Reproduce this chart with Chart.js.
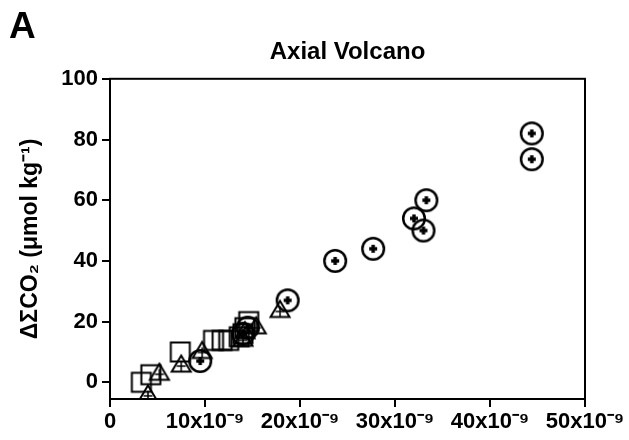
<!DOCTYPE html>
<html><head><meta charset="utf-8">
<script src="https://cdn.jsdelivr.net/npm/chart.js@4/dist/chart.umd.min.js"></script>
<style>
html,body{margin:0;padding:0;background:#fff;}
#wrap{position:relative;width:629px;height:440px;}
#panel{position:absolute;left:9px;top:7px;font:bold 37px "Liberation Sans",Arial,sans-serif;color:#000;line-height:1;}
</style></head><body>
<div id="wrap"><canvas id="c" width="629" height="440"></canvas><div id="panel">A</div></div>
<script>
// x values in units of 10^-9
const xTickValues = [0, 10, 20, 30, 40, 50];
const yTickValues = [0, 20, 40, 60, 80, 100];
const chartTitle = 'Axial Volcano';
const yAxisTitle = 'ΔΣCO₂ (μmol kg⁻¹)';

const squareX = [3.3, 4.3, 7.4, 10.9, 11.8, 12.5, 13.6, 14.0, 14.2, 14.6];
const squareY = [0, 2.5, 10, 13.8, 13.8, 13.8, 15, 16, 18, 20];

const triangleX = [4.0, 5.2, 7.5, 9.7, 14.0, 14.2, 15.4, 17.9];
const triangleY = [-3.8, 3.3, 6, 10.5, 14.5, 17, 18.6, 24];

const circleX = [9.5, 14.0, 14.5, 18.7, 23.7, 27.7, 32.0, 33.0, 33.3, 44.4, 44.4];
const circleY = [7, 16, 18, 27, 40, 44, 54, 50, 60, 73.5, 82];

function pts(xs, ys) { return xs.map((x, i) => ({x: x, y: ys[i]})); }

function makeCanvas(size, draw) {
  const c = document.createElement('canvas');
  c.width = size; c.height = size;
  const g = c.getContext('2d');
  draw(g, size / 2);
  return c;
}
const circleImg = makeCanvas(28, (g, m) => {
  g.strokeStyle = '#000'; g.lineWidth = 2.5;
  g.beginPath(); g.arc(m, m, 10.8, 0, Math.PI * 2); g.stroke();
  g.fillStyle = '#000';
  g.fillRect(m - 4, m - 1.7, 8, 3.4);
  g.fillRect(m - 1.7, m - 4, 3.4, 8);
});
const squareImg = makeCanvas(24, (g, m) => {
  g.strokeStyle = '#000'; g.lineWidth = 2;
  g.strokeRect(m - 9.5, m - 9.5, 19, 19);
});
const triangleImg = makeCanvas(24, (g, m) => {
  g.strokeStyle = '#000'; g.lineWidth = 2;
  g.beginPath();
  g.moveTo(m, m - 8.5); g.lineTo(m + 9.5, m + 7.5); g.lineTo(m - 9.5, m + 7.5); g.closePath();
  g.stroke();
  g.lineWidth = 1.5;
  g.beginPath();
  g.moveTo(m - 4.5, m + 2); g.lineTo(m + 4.5, m + 2);
  g.moveTo(m, m - 3); g.lineTo(m, m + 7.5);
  g.stroke();
});

const framePlugin = {
  id: 'frame',
  afterDraw(chart) {
    const a = chart.chartArea, ctx = chart.ctx;
    ctx.save();
    ctx.strokeStyle = '#000'; ctx.lineWidth = 2;
    ctx.strokeRect(a.left, a.top, a.right - a.left, a.bottom - a.top);
    ctx.restore();
  }
};

const font = {family: '"Liberation Sans", Arial, sans-serif', weight: 'bold'};

new Chart(document.getElementById('c'), {
  type: 'scatter',
  data: {
    datasets: [
      {label: 'squares', data: pts(squareX, squareY), pointStyle: squareImg},
      {label: 'triangles', data: pts(triangleX, triangleY), pointStyle: triangleImg},
      {label: 'circles', data: pts(circleX, circleY), pointStyle: circleImg}
    ]
  },
  options: {
    responsive: false,
    animation: false,
    layout: {padding: {left: 0, right: 44, top: 0, bottom: 0}},
    plugins: {
      legend: {display: false},
      tooltip: {enabled: false},
      title: {
        display: true, text: chartTitle, fullSize: false, color: '#000',
        font: Object.assign({size: 24}, font),
        padding: {top: 38, bottom: 12}
      }
    },
    scales: {
      x: {
        type: 'linear', min: 0, max: 50,
        afterBuildTicks: s => { s.ticks = xTickValues.map(v => ({value: v})); },
        afterFit: s => { s.height = 41; },
        grid: {drawOnChartArea: false, drawTicks: true, tickLength: 8, color: '#000', lineWidth: 2},
        border: {color: '#000', width: 2},
        ticks: {
          color: '#000', padding: 2, maxRotation: 0, autoSkip: false,
          font: Object.assign({size: 22}, font),
          callback: v => v === 0 ? '0' : v + 'x10⁻⁹'
        }
      },
      y: {
        type: 'linear', min: -5.5, max: 100,
        afterBuildTicks: s => { s.ticks = yTickValues.map(v => ({value: v})); },
        afterFit: s => { s.width = 110; },
        grid: {drawOnChartArea: false, drawTicks: true, tickLength: 8, color: '#000', lineWidth: 2},
        border: {color: '#000', width: 2},
        title: {display: true, text: yAxisTitle, color: '#000', font: Object.assign({size: 23}, font), padding: {top: 17, bottom: 0}},
        ticks: {
          color: '#000', padding: 4,
          font: Object.assign({size: 22}, font)
        }
      }
    }
  },
  plugins: [framePlugin]
});
</script>
</body></html>
